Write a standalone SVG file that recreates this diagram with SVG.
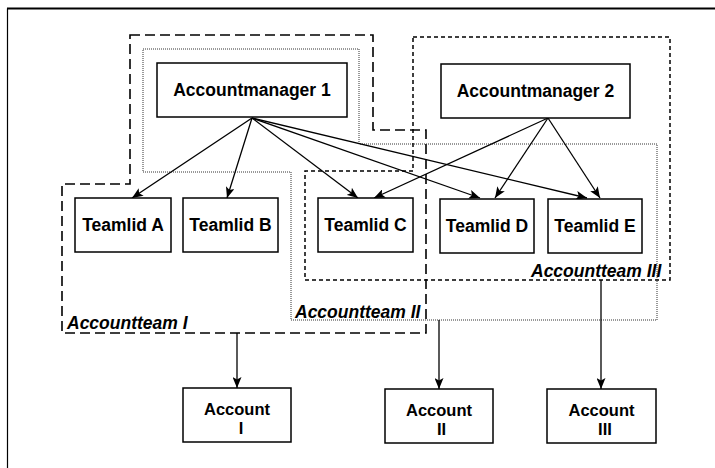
<svg xmlns="http://www.w3.org/2000/svg" width="715" height="468" viewBox="0 0 715 468">
  <defs>
    <marker id="arrow" markerUnits="userSpaceOnUse" markerWidth="12" markerHeight="9" refX="11" refY="4.5" orient="auto">
      <path d="M0,0 L11,4.5 L0,9 L2.5,4.5 Z" fill="#000"/>
    </marker>
    <style>
      .box { fill: #fff; stroke: #000; stroke-width: 1.5; }
      .label { font-family: "Liberation Sans", Arial, sans-serif; font-weight: bold; font-size: 17.5px; fill: #000; text-anchor: middle; }
      .label.acc { font-size: 16.5px; }
      .team { font-family: "Liberation Sans", Arial, sans-serif; font-weight: bold; font-style: italic; font-size: 17.5px; fill: #000; }
      .edge { fill: none; stroke: #000; stroke-width: 1.3; marker-end: url(#arrow); }
      .team-i { fill: none; stroke: #000; stroke-width: 1.6; stroke-dasharray: 10 5; }
      .team-ii { fill: none; stroke: #333; stroke-width: 1; stroke-dasharray: 1 1; }
      .team-iii { fill: none; stroke: #000; stroke-width: 1.5; stroke-dasharray: 4 3; }
    </style>
  </defs>

  <rect width="715" height="468" fill="#fff"/>

  <!-- outer frame -->
  <g id="frame">
    <path d="M7.5,468 V8.5" fill="none" stroke="#000" stroke-width="1.2"/>
    <path d="M7,8.5 H715" fill="none" stroke="#000" stroke-width="2"/>
  </g>

  <!-- team outlines -->
  <g id="accountteam-1">
    <path class="team-i" d="M130,35 H373 V130 H426 V333 H62 V184 H130 Z"/>
    <text class="team" x="67" y="329">Accountteam I</text>
  </g>
  <g id="accountteam-2">
    <path class="team-ii" d="M143,49 H359 V144 H657 V320 H291 V172 H143 Z"/>
    <text class="team" x="295" y="318">Accountteam II</text>
  </g>
  <g id="accountteam-3">
    <path class="team-iii" d="M413,37 H670 V280 H305 V171 H413 Z"/>
    <text class="team" x="531" y="277">Accountteam III</text>
  </g>

  <!-- connectors -->
  <g id="connectors">
    <line class="edge" x1="252" y1="118" x2="132" y2="198"/>
    <line class="edge" x1="252" y1="118" x2="227" y2="198"/>
    <line class="edge" x1="252" y1="118" x2="358" y2="198"/>
    <line class="edge" x1="252" y1="118" x2="480" y2="198"/>
    <line class="edge" x1="252" y1="118" x2="587" y2="198"/>
    <line class="edge" x1="548" y1="118" x2="374" y2="198"/>
    <line class="edge" x1="548" y1="118" x2="495" y2="198"/>
    <line class="edge" x1="548" y1="118" x2="600" y2="198"/>
    <line class="edge" x1="237" y1="333" x2="237" y2="388"/>
    <line class="edge" x1="439" y1="320" x2="439" y2="389"/>
    <line class="edge" x1="601" y1="280" x2="601" y2="389"/>
  </g>

  <!-- managers -->
  <g id="accountmanager-1">
    <rect class="box" x="157" y="63" width="190" height="54"/>
    <text class="label" x="252" y="96">Accountmanager 1</text>
  </g>
  <g id="accountmanager-2">
    <rect class="box" x="441" y="64" width="189" height="54"/>
    <text class="label" x="535.5" y="97">Accountmanager 2</text>
  </g>

  <!-- team members -->
  <g id="teamlid-a">
    <rect class="box" x="75" y="198" width="96" height="54"/>
    <text class="label" x="123" y="231">Teamlid A</text>
  </g>
  <g id="teamlid-b">
    <rect class="box" x="183" y="198" width="95" height="54"/>
    <text class="label" x="230.5" y="231">Teamlid B</text>
  </g>
  <g id="teamlid-c">
    <rect class="box" x="318" y="198" width="95" height="54"/>
    <text class="label" x="365.5" y="231">Teamlid C</text>
  </g>
  <g id="teamlid-d">
    <rect class="box" x="440" y="199" width="94" height="54"/>
    <text class="label" x="487" y="232">Teamlid D</text>
  </g>
  <g id="teamlid-e">
    <rect class="box" x="548" y="199" width="94" height="54"/>
    <text class="label" x="595" y="232">Teamlid E</text>
  </g>

  <!-- accounts: two-line labels -->
  <g id="account-1">
    <rect class="box" x="183" y="388" width="108" height="54"/>
    <text class="label acc"><tspan x="237" y="415">Account</tspan><tspan x="241" y="434">I</tspan></text>
  </g>
  <g id="account-2">
    <rect class="box" x="385" y="389" width="108" height="54"/>
    <text class="label acc"><tspan x="439" y="416">Account</tspan><tspan x="441.5" y="435">II</tspan></text>
  </g>
  <g id="account-3">
    <rect class="box" x="547" y="389" width="109" height="54"/>
    <text class="label acc"><tspan x="601.5" y="416">Account</tspan><tspan x="605" y="435">III</tspan></text>
  </g>
</svg>
